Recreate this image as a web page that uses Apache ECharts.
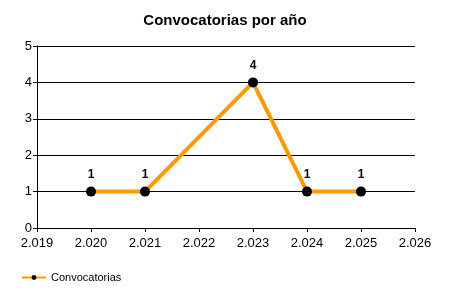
<!DOCTYPE html>
<html><head><meta charset="utf-8">
<script src="https://cdn.jsdelivr.net/npm/echarts@6/dist/echarts.min.js"></script>
<style>html,body{margin:0;padding:0;background:#fff}#c{width:450px;height:300px}</style>
</head><body><div id="c"></div>
<script>
var years = [2020, 2021, 2023, 2024, 2025];
var counts = [1, 1, 4, 1, 1];
var seriesName = 'Convocatorias';
var titleText = 'Convocatorias por año';

var chart = echarts.init(document.getElementById('c'));
var font = 'Liberation Sans';
chart.setOption({
  animation: false,
  backgroundColor: '#fff',
  title: {text: titleText, left: 'center', top: 8,
    textStyle: {fontFamily: font, fontSize: 15, fontWeight: 'bold', color: '#000'}},
  grid: {left: 37, right: 35, top: 46, bottom: 72},
  xAxis: {type: 'value', min: 2019, max: 2026, interval: 1,
    axisLine: {lineStyle: {color: '#000', width: 1}},
    axisTick: {show: true, length: 4, lineStyle: {color: '#000'}},
    splitLine: {show: false},
    axisLabel: {color: '#000', fontFamily: font, fontSize: 13, margin: 9,
      formatter: function (v) { var s = String(v); return s.slice(0, 1) + '.' + s.slice(1); }}
  },
  yAxis: {type: 'value', min: 0, max: 5, interval: 1,
    axisLine: {show: true, lineStyle: {color: '#000', width: 1}},
    axisTick: {show: true, length: 4, lineStyle: {color: '#000'}},
    splitLine: {show: true, lineStyle: {color: '#000', width: 1}},
    axisLabel: {color: '#000', fontFamily: font, fontSize: 13, margin: 5}
  },
  legend: {left: 16, top: 267, itemWidth: 24, itemHeight: 6, itemGap: 4,
    data: [seriesName],
    textStyle: {fontFamily: font, fontSize: 11, color: '#000'}},
  series: [{
    name: seriesName, type: 'line',
    data: years.map(function (y, i) { return [y, counts[i]]; }),
    lineStyle: {color: '#FF9900', width: 4},
    itemStyle: {color: '#000'},
    symbol: 'circle', symbolSize: 10,
    label: {show: true, position: 'top', distance: 6, color: '#000',
      fontFamily: font, fontSize: 12, fontWeight: 'bold'}
  }]
});
</script></body></html>
